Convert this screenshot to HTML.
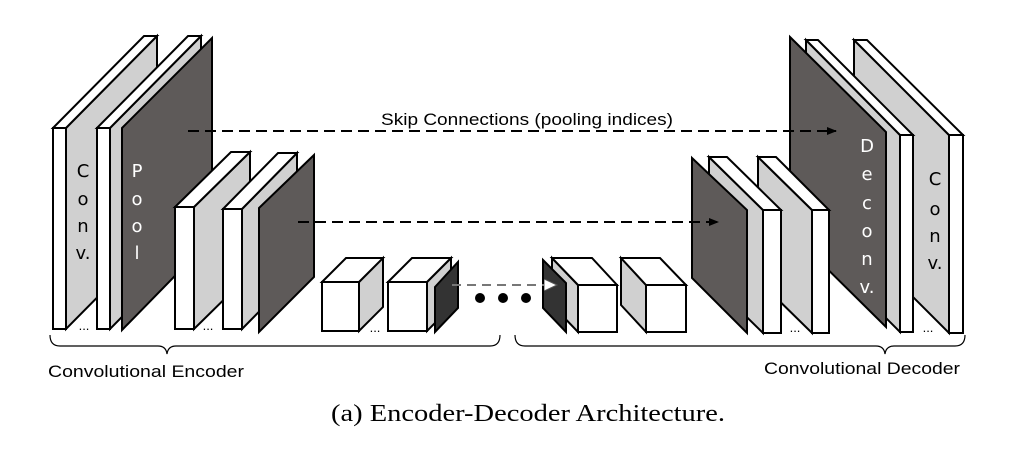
<!DOCTYPE html>
<html><head><meta charset="utf-8"><style>
html,body{margin:0;padding:0;background:#fff;}
svg{display:block;}
</style></head><body>
<svg width="1020" height="449" viewBox="0 0 1020 449" xmlns="http://www.w3.org/2000/svg">
<defs>
<marker id="ah" markerWidth="10" markerHeight="8" refX="9" refY="4" orient="auto" markerUnits="userSpaceOnUse">
<path d="M0,0 L10,4 L0,8 Z" fill="#000"/></marker>
<marker id="ahw" markerWidth="14" markerHeight="12" refX="13" refY="6" orient="auto" markerUnits="userSpaceOnUse">
<path d="M0,0 L13,6 L0,12 Z" fill="#fff" stroke="#555" stroke-width="1"/></marker>
</defs>
<g stroke="#000" stroke-width="2" stroke-linejoin="miter">
<polygon points="66,128 157,36 157,237 66,329" fill="#d0d0d0"/>
<polygon points="53,128 144,36 157,36 66,128" fill="#fff"/>
<rect x="53" y="128" width="13" height="201" fill="#fff"/>
<polygon points="110,128 201,36 201,237 110,329" fill="#d0d0d0"/>
<polygon points="97,128 188,36 201,36 110,128" fill="#fff"/>
<rect x="97" y="128" width="13" height="201" fill="#fff"/>
<polygon points="122,128 212,38 212,238 122,330" fill="#5e5a59"/>
<polygon points="194,207 250,152 250,274 194,329" fill="#d0d0d0"/>
<polygon points="175,207 231,152 250,152 194,207" fill="#fff"/>
<rect x="175" y="207" width="19" height="122" fill="#fff"/>
<polygon points="242,209 297,153 297,273 242,329" fill="#d0d0d0"/>
<polygon points="223,209 278,153 297,153 242,209" fill="#fff"/>
<rect x="223" y="209" width="19" height="120" fill="#fff"/>
<polygon points="259,208 314,155 314,277 259,332" fill="#5e5a59"/>
<polygon points="359,282 383,258 383,307 359,331" fill="#d0d0d0"/>
<polygon points="322,282 346,258 383,258 359,282" fill="#fff"/>
<rect x="322" y="282" width="37" height="49" fill="#fff"/>
<polygon points="427,282 451,258 451,307 427,331" fill="#d0d0d0"/>
<polygon points="388,282 412,258 451,258 427,282" fill="#fff"/>
<rect x="388" y="282" width="39" height="49" fill="#fff"/>
<polygon points="435,287 458,262 458,308 435,332" fill="#333"/>
<!-- cubes right -->
<polygon points="621,258 646,285 646,332 621,305" fill="#d0d0d0"/>
<polygon points="621,258 660,258 686,285 646,285" fill="#fff"/>
<rect x="646" y="285" width="40" height="47" fill="#fff"/>
<polygon points="552,258 578,285 578,332 552,305" fill="#d0d0d0"/>
<polygon points="552,258 592,258 617,285 578,285" fill="#fff"/>
<rect x="578" y="285" width="39" height="47" fill="#fff"/>
<polygon points="543,260 566,283 566,332 543,308" fill="#333"/>
<!-- RIGHT big -->
<polygon points="949,135 854,40 854,238 949,333" fill="#d0d0d0"/>
<polygon points="949,135 854,40 867,40 963,135" fill="#fff"/>
<rect x="949" y="135" width="14" height="198" fill="#fff"/>
<polygon points="900,135 806,40 806,238 900,332" fill="#d0d0d0"/>
<polygon points="900,135 806,40 818,40 913,135" fill="#fff"/>
<rect x="900" y="135" width="13" height="197" fill="#fff"/>
<polygon points="790,37 886,132 886,327 790,232" fill="#5e5a59"/>
<polygon points="812,210 758,157 758,280 812,333" fill="#d0d0d0"/>
<polygon points="812,210 758,157 776,157 829,210" fill="#fff"/>
<rect x="812" y="210" width="17" height="123" fill="#fff"/>
<polygon points="763,210 709,157 709,280 763,333" fill="#d0d0d0"/>
<polygon points="763,210 709,157 727,157 781,210" fill="#fff"/>
<rect x="763" y="210" width="18" height="123" fill="#fff"/>
<polygon points="692,158 747,210 747,333 692,278" fill="#5e5a59"/>
</g>
<line x1="188" y1="131" x2="836" y2="131" stroke="#000" stroke-width="2" stroke-dasharray="11,6" marker-end="url(#ah)"/>
<line x1="298" y1="222" x2="718" y2="222" stroke="#000" stroke-width="2" stroke-dasharray="11,6" marker-end="url(#ah)"/>
<line x1="452" y1="285" x2="557" y2="285" stroke="#777" stroke-width="2" stroke-dasharray="9,6" marker-end="url(#ahw)"/>
<circle cx="480" cy="298" r="5" fill="#000"/>
<circle cx="503" cy="298" r="5" fill="#000"/>
<circle cx="526" cy="298" r="5" fill="#000"/>
<path d="M50,335 Q50,346 60,346 L158,346 Q166,346 167,354 Q168,346 176,346 L490,346 Q500,346 500,335" fill="none" stroke="#000" stroke-width="1.2"/>
<path d="M515,335 Q515,346 525,346 L876,346 Q884,346 885,354 Q886,346 894,346 L955,346 Q965,346 965,335" fill="none" stroke="#000" stroke-width="1.2"/>
<g font-family="'DejaVu Sans','Liberation Sans',sans-serif" font-size="18" text-anchor="middle">
<text x="83" y="177" fill="#000">C</text><text x="83" y="205" fill="#000">o</text><text x="83" y="232" fill="#000">n</text><text x="83" y="259" fill="#000">v.</text>
<text x="137" y="177" fill="#fff">P</text><text x="137" y="205" fill="#fff">o</text><text x="137" y="232" fill="#fff">o</text><text x="137" y="259" fill="#fff">l</text>
<text x="867" y="152" fill="#fff">D</text><text x="867" y="180" fill="#fff">e</text><text x="867" y="209" fill="#fff">c</text><text x="867" y="237" fill="#fff">o</text><text x="867" y="265" fill="#fff">n</text><text x="867" y="293" fill="#fff">v.</text>
<text x="935" y="185" fill="#000">C</text><text x="935" y="215" fill="#000">o</text><text x="935" y="242" fill="#000">n</text><text x="935" y="269" fill="#000">v.</text>
</g>
<g font-family="'Liberation Sans',sans-serif" font-size="13" fill="#000" text-anchor="middle">
<text x="84" y="330">...</text><text x="208" y="330">...</text><text x="375" y="332">...</text><text x="795" y="332">...</text><text x="928" y="332">...</text>
</g>
<g font-family="'Liberation Sans',sans-serif" font-size="17" fill="#000">
<text x="381" y="125" textLength="292" lengthAdjust="spacingAndGlyphs">Skip Connections (pooling indices)</text>
<text x="48" y="377" textLength="196" lengthAdjust="spacingAndGlyphs">Convolutional Encoder</text>
<text x="764" y="374" textLength="196" lengthAdjust="spacingAndGlyphs">Convolutional Decoder</text>
</g>
<text x="331" y="421" font-family="'Liberation Serif',serif" font-size="24" fill="#000" textLength="394" lengthAdjust="spacingAndGlyphs">(a) Encoder-Decoder Architecture.</text>
</svg>
</body></html>
